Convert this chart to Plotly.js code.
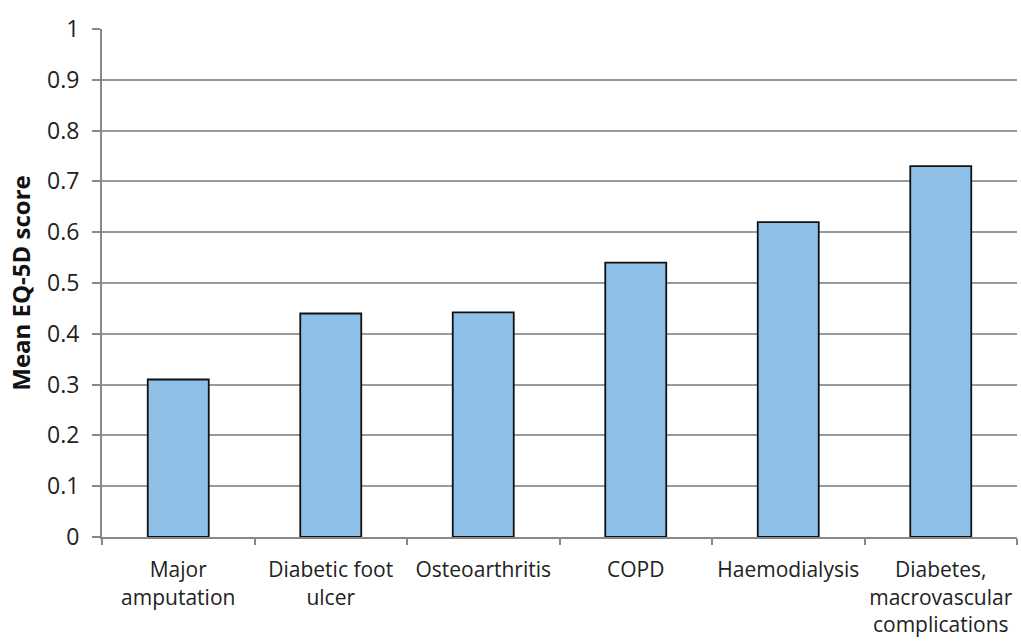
<!DOCTYPE html>
<html>
<head>
<meta charset="utf-8">
<script src="https://cdn.plot.ly/plotly-3.0.1.min.js"></script>
<style>html,body{margin:0;padding:0;background:#fff;}#chart{width:1021px;height:643px;}</style>
</head>
<body>
<div id="chart"></div>
<script>
var categories = ["Major<br>amputation", "Diabetic foot<br>ulcer", "Osteoarthritis", "COPD", "Haemodialysis", "Diabetes,<br>macrovascular<br>complications"];
var scores = [0.31, 0.44, 0.442, 0.54, 0.62, 0.73];
var yTicks = [0, 0.1, 0.2, 0.3, 0.4, 0.5, 0.6, 0.7, 0.8, 0.9, 1];
var yTickLabels = ["0", "0.1", "0.2", "0.3", "0.4", "0.5", "0.6", "0.7", "0.8", "0.9", "1"];

var trace = {
  type: "bar",
  x: categories,
  y: scores,
  width: 0.4,
  marker: {color: "#8EBFE7", line: {color: "#111", width: 1.8}},
  hoverinfo: "none"
};

var layout = {
  width: 1021, height: 643,
  margin: {l: 102, r: 4, t: 29, b: 106},
  paper_bgcolor: "#fff", plot_bgcolor: "#fff",
  font: {family: "Open Sans, sans-serif", size: 22, color: "#222"},
  showlegend: false,
  xaxis: {
    type: "category",
    showline: true, linecolor: "#888", linewidth: 2,
    ticks: "outside", tickson: "boundaries", ticklen: 6, tickcolor: "#888", tickwidth: 2,
    ticklabelstandoff: 13,
    tickangle: 0,
    tickfont: {size: 21, color: "#222"},
    showgrid: false
  },
  yaxis: {
    range: [0, 1],
    tickvals: yTicks, ticktext: yTickLabels,
    showline: true, linecolor: "#888", linewidth: 2,
    ticks: "outside", ticklen: 8, tickcolor: "#888", tickwidth: 2,
    ticklabelstandoff: 8,
    showgrid: true, gridcolor: "#999", gridwidth: 2,
    zeroline: false,
    tickfont: {size: 23, color: "#222"},
    title: {text: "Mean EQ-5D score", font: {size: 24, color: "#111", family: "Open Sans, sans-serif", weight: "bold"}, standoff: 10}
  }
};

Plotly.newPlot("chart", [trace], layout, {displayModeBar: false, staticPlot: true});
</script>
</body>
</html>
